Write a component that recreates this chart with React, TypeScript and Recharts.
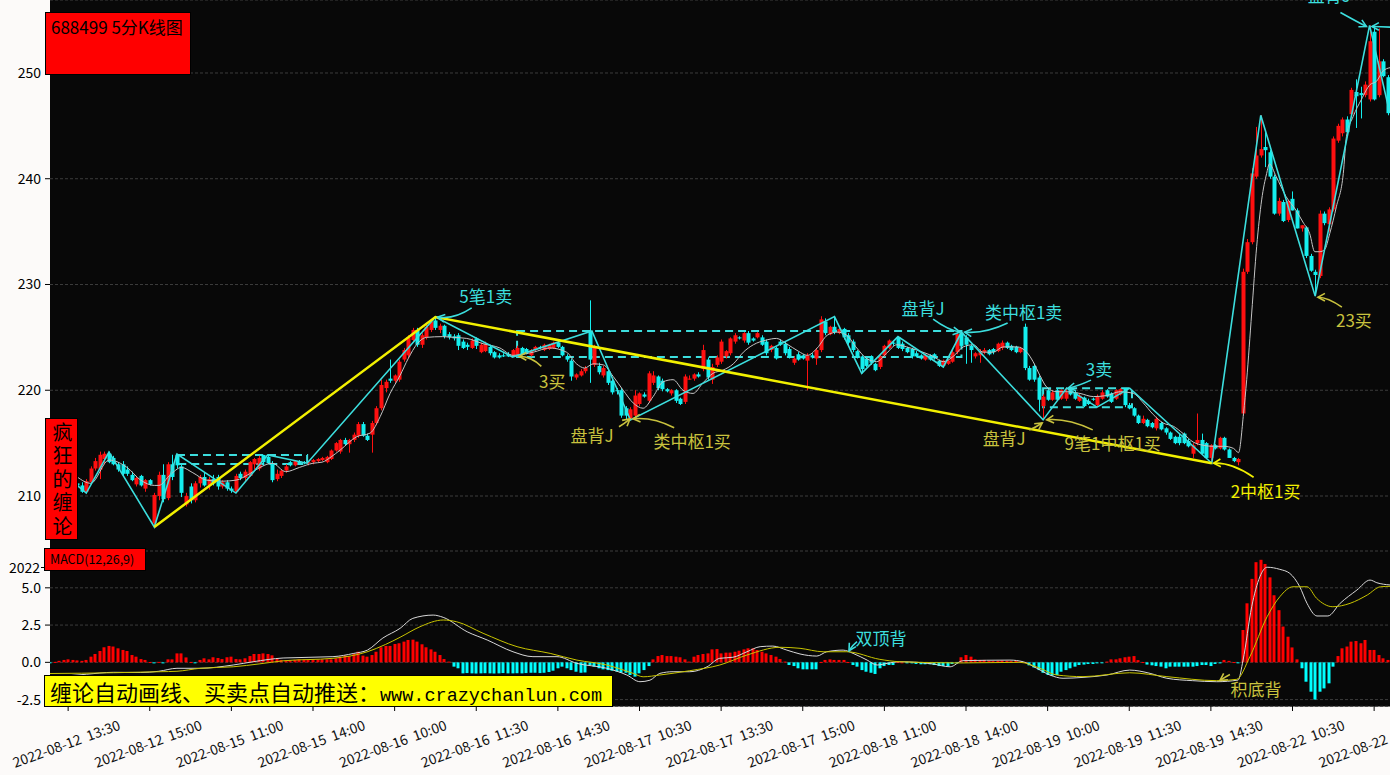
import React from 'react'
import {
  ComposedChart,
  Bar,
  Line,
  XAxis,
  YAxis,
  CartesianGrid,
  ReferenceArea,
  ReferenceDot,
} from 'recharts'

// ---- price bars, one array per trading day: [open, high, low, close] ----
const K_0812 = [
  [212.0, 212.3, 211.7, 211.9], [211.9, 212.2, 211.6, 211.8], [211.8, 212.0, 211.4, 211.6], [211.6, 211.9, 211.3, 211.7],
  [211.7, 212.0, 211.4, 211.5], [211.5, 211.8, 211.0, 211.2], [211.2, 211.5, 210.8, 211.0], [211.0, 211.3, 210.3, 210.4],
  [210.4, 211.6, 210.3, 211.4], [211.3, 212.8, 211.1, 212.6], [212.6, 213.6, 212.4, 213.3], [212.5, 214.2, 211.6, 213.9],
  [213.5, 214.2, 213.0, 214.0], [214.0, 214.2, 213.1, 213.2], [213.6, 213.8, 212.9, 213.0], [213.0, 213.2, 212.3, 212.5],
  [213.0, 213.3, 211.9, 212.1], [212.5, 212.8, 211.9, 212.1], [212.0, 212.3, 211.4, 211.5], [211.1, 211.9, 210.9, 211.7],
  [211.9, 212.0, 210.9, 211.0], [210.7, 211.6, 210.4, 211.5], [211.5, 211.6, 211.0, 211.1],
]
const K_0815 = [
  [207.4, 210.3, 207.07, 210.1], [210.0, 212.3, 209.6, 212.0], [212.0, 213.0, 209.4, 209.7], [209.8, 213.2, 209.6, 213.0],
  [213.0, 213.9, 211.5, 211.8], [213.9, 213.97, 212.6, 212.9], [212.8, 213.0, 209.9, 210.3], [209.2, 210.3, 209.0, 210.0],
  [210.9, 211.2, 209.3, 209.6], [209.6, 211.4, 209.4, 211.2], [211.2, 212.0, 210.8, 211.8], [211.8, 212.2, 210.9, 211.0],
  [211.0, 211.8, 210.6, 211.6], [211.6, 212.0, 211.0, 211.2], [211.8, 212.0, 210.6, 210.9], [210.9, 211.5, 210.7, 211.3],
  [211.3, 211.5, 210.5, 210.7], [210.7, 210.9, 210.3, 210.5], [210.4, 212.1, 210.28, 211.9], [212.1, 212.3, 211.5, 211.7],
  [211.7, 212.5, 211.4, 212.3], [211.9, 213.3, 211.8, 213.2], [213.0, 213.6, 212.5, 213.5], [212.6, 213.8, 212.4, 213.6],
  [213.88, 213.9, 212.9, 213.2], [213.7, 213.88, 213.0, 213.1], [213.1, 213.3, 211.3, 211.5], [211.6, 212.5, 211.4, 212.1],
  [211.9, 212.5, 211.7, 212.4], [212.4, 213.0, 212.2, 212.8], [213.2, 213.3, 212.8, 212.9], [212.9, 213.4, 212.8, 213.3],
  [213.3, 213.4, 213.0, 213.1], [213.2, 213.3, 213.0, 213.1], [213.1, 213.3, 212.9, 213.2], [213.2, 213.5, 213.0, 213.4],
  [213.3, 213.6, 213.2, 213.5], [213.4, 213.7, 213.3, 213.6], [213.2, 213.8, 213.1, 213.7], [213.5, 214.4, 213.4, 214.3],
  [214.3, 215.1, 214.2, 215.0], [214.2, 215.4, 214.0, 215.3], [215.3, 215.5, 214.8, 214.9], [214.9, 215.4, 214.1, 215.3],
  [215.3, 216.0, 215.1, 215.8], [215.7, 217.0, 215.5, 216.8], [216.8, 217.0, 215.6, 215.7], [215.7, 215.9, 215.2, 215.3],
]
const K_0816 = [
  [215.8, 217.1, 214.1, 216.9], [216.9, 218.5, 216.7, 218.3], [218.3, 221.0, 218.1, 220.5], [220.2, 221.0, 219.8, 220.8],
  [221.1, 222.9, 220.7, 220.9], [220.9, 221.5, 220.7, 221.4], [221.0, 222.9, 220.8, 222.7], [222.9, 224.0, 222.7, 223.8],
  [223.3, 225.2, 223.0, 225.0], [224.75, 225.9, 224.5, 225.7], [225.7, 225.9, 224.1, 224.3], [224.3, 225.4, 224.0, 225.2],
  [225.0, 226.2, 224.8, 226.0], [225.7, 226.7, 225.5, 226.5], [226.6, 226.93, 225.7, 225.9], [225.7, 226.3, 225.4, 226.1],
  [226.1, 226.2, 224.9, 225.1], [225.3, 225.5, 224.8, 225.0], [225.1, 225.3, 224.7, 224.9], [225.2, 225.4, 223.8, 224.2],
  [224.6, 224.8, 223.9, 224.0], [224.3, 224.5, 223.8, 224.1], [224.0, 224.9, 223.9, 224.7], [224.9, 225.0, 223.9, 224.2],
  [223.6, 224.5, 223.5, 224.3], [223.7, 224.6, 223.6, 224.4], [224.1, 224.3, 223.3, 223.5], [223.6, 223.7, 223.0, 223.1],
  [223.3, 223.5, 223.0, 223.1], [223.3, 223.5, 223.14, 223.2], [223.4, 223.6, 223.14, 223.2], [223.2, 223.9, 223.14, 223.8],
  [223.3, 224.2, 223.2, 224.0], [224.0, 224.1, 223.3, 223.4], [223.9, 224.0, 223.4, 223.5], [223.3, 223.9, 223.2, 223.8],
  [223.8, 224.2, 223.7, 224.1], [224.1, 224.2, 223.9, 224.0], [223.8, 224.4, 223.7, 224.3], [223.9, 224.4, 223.8, 224.3],
  [224.0, 224.6, 223.9, 224.5], [224.5, 224.7, 224.0, 224.1], [224.1, 224.2, 223.2, 223.3], [223.2, 223.4, 222.7, 222.9],
  [222.8, 223.0, 220.9, 221.3], [221.2, 221.6, 221.0, 221.5], [221.4, 222.0, 221.3, 221.8], [221.8, 222.3, 221.6, 222.1],
]
const K_0817 = [
  [225.6, 228.5, 220.7, 222.9], [222.4, 224.3, 222.2, 224.1], [222.3, 222.6, 221.5, 221.7], [221.4, 222.3, 221.2, 222.1],
  [221.8, 222.0, 220.5, 220.7], [220.9, 221.1, 219.6, 219.8], [220.0, 220.2, 219.6, 219.9], [220.0, 220.2, 217.4, 217.6],
  [218.3, 218.5, 217.19, 217.6], [217.3, 218.4, 217.19, 218.2], [217.6, 220.0, 217.4, 219.5], [218.7, 219.8, 218.5, 219.7],
  [219.6, 219.8, 219.3, 219.4], [219.0, 221.8, 218.8, 221.6], [220.7, 221.8, 220.5, 221.4], [221.3, 221.4, 220.0, 220.2],
  [220.9, 221.1, 219.9, 220.1], [220.1, 220.2, 219.8, 219.9], [219.7, 220.1, 219.5, 220.0], [220.0, 220.1, 218.8, 219.0],
  [219.2, 219.3, 218.6, 218.7], [218.9, 221.5, 218.7, 221.3], [221.1, 221.4, 221.0, 221.1], [221.1, 221.6, 220.9, 221.5],
  [221.5, 221.7, 221.2, 221.3], [222.0, 224.3, 221.8, 223.8], [222.9, 223.1, 221.0, 221.2], [221.0, 222.5, 220.6, 222.2],
  [222.4, 223.3, 222.2, 223.1], [222.7, 224.8, 222.5, 224.6], [223.2, 223.8, 223.0, 223.7], [223.5, 225.0, 223.3, 224.9],
  [224.6, 225.4, 224.4, 225.2], [225.0, 225.1, 224.8, 224.9], [224.7, 225.5, 224.5, 225.4], [225.4, 225.6, 224.3, 224.5],
  [224.9, 225.0, 224.6, 224.7], [225.0, 225.5, 224.9, 225.4], [225.0, 225.2, 224.2, 224.3], [224.6, 224.8, 223.3, 223.5],
  [223.8, 224.3, 223.6, 224.2], [224.0, 224.1, 222.9, 223.0], [224.6, 224.8, 224.2, 224.3], [224.4, 224.6, 223.3, 223.5],
  [223.9, 224.1, 223.0, 223.2], [222.6, 223.2, 222.4, 223.0], [223.4, 223.6, 222.8, 222.9], [223.3, 223.4, 222.9, 223.0],
]
const K_0818 = [
  [222.8, 223.5, 220.0, 223.3], [223.3, 223.5, 223.0, 223.1], [223.0, 224.0, 222.4, 223.8], [223.8, 227.0, 223.6, 226.7],
  [226.5, 226.8, 225.2, 225.4], [225.3, 226.1, 225.2, 226.0], [226.0, 226.96, 225.3, 225.5], [225.4, 226.0, 225.3, 225.8],
  [225.8, 225.9, 224.8, 225.0], [225.2, 225.4, 224.3, 224.5], [224.6, 224.8, 223.6, 223.8], [223.7, 223.8, 223.0, 223.2],
  [223.2, 223.3, 221.6, 222.0], [223.0, 223.2, 222.2, 222.3], [223.2, 223.3, 222.4, 222.6], [222.5, 222.6, 221.8, 221.9],
  [222.2, 223.4, 222.0, 223.2], [223.3, 224.3, 223.2, 224.2], [224.0, 224.8, 223.9, 224.7], [224.5, 224.7, 224.2, 224.4],
  [225.0, 225.07, 223.9, 224.0], [224.4, 224.6, 223.7, 223.9], [224.0, 224.1, 223.5, 223.6], [223.9, 224.0, 223.0, 223.2],
  [223.5, 223.7, 223.1, 223.2], [223.3, 223.4, 222.9, 223.0], [222.9, 223.4, 222.8, 223.3], [223.3, 223.4, 222.8, 222.9],
  [223.4, 223.5, 222.9, 223.0], [222.8, 222.9, 222.2, 222.3], [222.3, 222.9, 222.2, 222.8], [222.5, 222.9, 222.4, 222.8],
  [222.7, 223.8, 222.6, 223.6], [223.6, 225.5, 223.4, 225.3], [225.4, 225.5, 224.0, 224.2], [225.0, 225.2, 222.5, 224.3],
  [224.2, 224.3, 222.6, 223.8], [223.2, 223.6, 223.0, 223.5], [223.3, 223.9, 222.6, 223.6], [223.6, 224.0, 223.4, 223.8],
  [223.8, 223.9, 223.3, 223.4], [223.9, 224.0, 223.4, 223.6], [223.7, 224.5, 223.6, 224.4], [224.0, 224.7, 223.8, 224.5],
  [224.5, 224.6, 223.9, 224.0], [224.2, 224.3, 223.7, 223.8], [224.1, 224.2, 223.5, 223.6], [223.6, 224.1, 223.5, 224.0],
]
const K_0819 = [
  [226.0, 226.3, 221.9, 222.1], [222.1, 222.3, 220.9, 221.0], [222.3, 222.5, 220.8, 221.0], [221.2, 221.4, 218.0, 219.1],
  [218.5, 219.6, 217.2, 219.4], [220.0, 220.2, 219.0, 219.1], [219.1, 220.0, 219.0, 219.8], [220.0, 220.2, 219.0, 219.1],
  [219.2, 220.1, 219.1, 220.0], [219.2, 220.2, 219.0, 219.8], [220.1, 220.2, 219.5, 219.6], [219.8, 220.0, 219.1, 219.2],
  [219.0, 219.7, 218.9, 219.5], [219.3, 219.4, 218.4, 218.5], [219.0, 219.2, 218.6, 218.7], [219.2, 219.3, 219.0, 219.1],
  [218.6, 219.6, 218.4, 219.4], [219.2, 220.0, 219.1, 219.8], [220.0, 220.1, 219.3, 219.4], [219.7, 219.8, 218.8, 218.9],
  [219.2, 220.1, 219.1, 220.0], [219.6, 220.2, 219.5, 220.1], [220.2, 220.2, 218.4, 218.6], [218.6, 218.8, 218.2, 218.3],
  [218.3, 218.4, 217.5, 217.6], [217.6, 217.7, 216.8, 216.9], [216.9, 217.6, 216.8, 217.3], [217.2, 217.3, 216.5, 216.6],
  [216.9, 217.0, 216.4, 216.5], [216.4, 217.5, 216.2, 217.3], [216.9, 217.0, 216.2, 216.3], [216.4, 216.5, 215.8, 216.0],
  [216.0, 216.1, 215.3, 215.4], [215.6, 215.7, 214.9, 215.0], [215.6, 215.9, 214.8, 215.0], [215.9, 216.0, 214.9, 215.0],
  [215.2, 215.4, 214.6, 214.7], [214.0, 215.0, 213.6, 214.8], [215.0, 217.8, 214.8, 215.3], [215.3, 215.9, 213.9, 214.0],
  [215.0, 215.1, 213.5, 213.6], [213.6, 214.9, 213.1, 214.8], [214.8, 214.9, 214.4, 214.5], [214.5, 215.6, 214.4, 215.5],
  [215.5, 215.6, 214.3, 214.4], [214.4, 214.5, 213.6, 213.6], [213.6, 213.7, 213.2, 213.3], [213.2, 213.6, 212.9, 213.5],
]
const K_0822 = [
  [217.8, 231.5, 217.6, 231.2], [231.2, 234.3, 231.0, 234.0], [234.0, 241.0, 233.8, 240.5], [240.2, 244.9, 240.0, 242.2],
  [242.2, 246.0, 242.0, 242.8], [243.0, 244.4, 241.1, 242.7], [242.5, 242.7, 240.0, 240.2], [240.2, 240.4, 236.6, 236.7],
  [236.7, 238.2, 236.5, 237.9], [237.8, 238.0, 235.9, 236.0], [236.1, 238.0, 235.9, 237.9], [238.1, 238.8, 237.0, 237.0],
  [237.0, 237.2, 235.3, 235.3], [235.3, 235.6, 235.0, 235.6], [235.4, 235.5, 232.5, 232.7], [232.7, 232.9, 231.2, 231.3],
  [231.2, 231.4, 228.9, 230.9], [230.8, 237.0, 230.6, 236.7], [236.7, 236.9, 235.6, 235.8], [235.7, 237.3, 235.0, 237.1],
  [237.1, 244.0, 236.9, 243.8], [243.6, 245.2, 243.4, 245.0], [244.3, 245.8, 244.0, 245.6], [245.6, 245.9, 244.3, 244.4],
  [246.1, 248.6, 245.9, 248.4], [248.2, 249.4, 244.8, 247.8], [248.1, 248.7, 245.7, 247.9], [247.9, 249.2, 247.7, 248.9],
  [247.5, 254.5, 247.3, 253.0], [253.9, 254.3, 247.4, 247.5], [247.9, 254.2, 247.7, 251.1], [251.1, 251.3, 249.6, 249.7],
  [249.6, 249.8, 246.0, 246.2],
]

// moving average line, [bar index, value]
const MA_PTS = [
  [6, 211.8], [9, 211.2], [13, 213.4], [17, 212.7], [20, 211.5], [23, 211.0], [24, 211.0], [26.5, 212.0], [29, 212.7],
  [31.5, 212.2], [34.5, 211.5], [38, 211.4], [41, 211.5], [44, 212.1], [46.3, 212.7], [49, 213.1], [52, 212.3], [55, 212.7],
  [58, 213.1], [60, 213.2], [62, 213.7], [64, 214.35], [67.6, 215.6], [70.6, 215.95], [72.8, 217.5], [75, 219.7], [77.2, 221.4],
  [79, 223.0], [81, 224.4], [83, 225.0], [86.6, 225.07], [89, 225.0], [91.9, 224.9], [95.5, 224.4], [99.2, 224.0], [102.1, 223.3],
  [106.6, 223.6], [110.2, 224.0], [113.9, 223.6], [116.1, 222.5], [117.9, 222.1], [119.8, 222.5], [122, 222.4], [124.2, 221.3],
  [126.4, 220.0], [128.6, 218.8], [130.8, 218.3], [133, 219.4], [135.2, 220.8], [137.4, 221.0], [139.6, 220.0], [141.8, 219.7],
  [144, 220.7], [146.2, 221.6], [148.4, 221.9], [150.7, 222.5], [152.9, 223.6], [155.1, 224.3], [158, 224.75], [160.2, 224.9],
  [162.4, 224.4], [165, 223.7], [167, 223.3], [169.2, 224.0], [171.4, 225.2], [173.6, 225.5], [175.7, 225.2], [177.9, 224.0],
  [180.1, 223.0], [182.3, 222.7], [184.5, 223.5], [186.7, 224.3], [188.9, 224.1], [191.1, 223.8], [194.8, 223.2], [197, 222.7],
  [199.2, 223.2], [201.4, 224.1], [203.6, 224.3], [205.8, 223.6], [208, 223.6], [210.2, 224.1], [213.2, 224.1], [215.4, 223.6],
  [216.8, 222.7], [218.3, 221.4], [219.8, 220.3], [222, 219.86], [224.2, 219.86], [227.1, 219.7], [230.1, 219.4], [233, 219.5],
  [236, 219.86], [238.9, 219.7], [241.1, 218.8], [243.3, 217.7], [245.5, 216.9], [247.7, 216.6], [249.9, 215.9], [252.1, 215.1],
  [254.3, 214.8], [256.5, 214.7], [258.8, 214.7], [261, 214.5], [262.1, 214.1], [263.2, 217.8], [263.9, 221.0], [265, 227.3],
  [266.1, 233.6], [267.2, 238.0], [268.3, 240.5], [268.9, 241.4], [270.4, 240.2], [272.6, 238.3], [274.8, 237.0], [276.3, 235.9],
  [277.8, 234.8], [278.9, 233.1], [280, 233.1], [281.1, 233.3], [282.2, 234.8], [283.7, 237.4], [285.2, 240.5], [285.9, 244.0],
  [287.4, 245.9], [289.2, 247.5], [291.1, 248.9], [292.5, 249.2], [294, 250.2], [295.5, 250.5],
]

// strokes (bi) and segments (xd), [bar index, price]
const BI_PTS = [
  [6, 211.0], [8, 210.28], [13, 214.16], [23, 207.07], [28, 213.97], [41, 210.28], [48, 213.88], [56.7, 213.1], [85, 226.93],
  [102, 223.14], [119.5, 225.6], [128, 217.19], [173, 226.96], [179, 221.6], [187, 225.07], [197, 222.2], [201, 225.5],
  [219, 217.2], [224.2, 220.2], [230.9, 218.4], [238.1, 220.2], [256.2, 213.1], [267, 246.0], [279, 228.9], [291, 254.5],
  [295.4, 246.3],
]
const XD_PTS = [[23, 207.07], [85, 226.93], [256.2, 213.1]]

// pivots (zhongshu): [from bar, to bar, low, high]
const ZS_BOXES = [
  [28, 56.7, 213.03, 213.88],
  [103, 201, 223.14, 225.6],
  [219, 238.6, 218.4, 220.2],
]

// MACD histogram per bar, by day
const H_0812 = [-0.05, 0.03, 0.1, 0.16, 0.2, 0.16, 0.13, 0.1, 0.16, 0.38, 0.56, 0.76, 1.01, 1.1, 1.06, 0.94, 0.83, 0.76, 0.49, 0.38, 0.22, 0.16, 0.02]
const H_0815 = [
  -0.07, 0.03, -0.07, 0.2, 0.2, 0.6, 0.6, 0.33, 0.02, -0.05, 0.16, 0.27, 0.2, 0.34, 0.29, 0.22, 0.34, 0.38, 0.22, 0.2, 0.27, 0.42,
  0.56, 0.56, 0.6, 0.56, 0.47, 0.25, 0.16, 0.12, 0.12, 0.16, 0.2, 0.18, 0.16, 0.2, 0.18, 0.2, 0.2, 0.2, 0.27, 0.38, 0.45, 0.42,
  0.56, 0.71, 0.45, 0.38,
]
const H_0816 = [
  0.49, 0.71, 1.01, 1.1, 1.1, 1.23, 1.28, 1.39, 1.5, 1.52, 1.39, 1.21, 1.01, 0.87, 0.71, 0.49, 0.22, 0.05, -0.29, -0.4, -0.74,
  -0.72, -0.74, -0.75, -0.74, -0.73, -0.74, -0.75, -0.74, -0.72, -0.74, -0.74, -0.73, -0.74, -0.72, -0.7, -0.7, -0.72, -0.7,
  -0.65, -0.56, -0.4, -0.29, -0.4, -0.52, -0.63, -0.7, -0.68,
]
const H_0817 = [
  -0.18, -0.29, -0.4, -0.47, -0.52, -0.56, -0.63, -0.7, -0.7, -0.85, -0.96, -0.74, -0.52, -0.25, 0.2, 0.42, 0.49, 0.42, 0.42,
  0.38, 0.34, 0.2, 0.05, 0.38, 0.49, 0.56, 0.6, 0.87, 0.89, 0.6, 0.65, 0.65, 0.71, 0.78, 0.87, 0.94, 0.94, 0.83, 0.71, 0.6,
  0.49, 0.38, 0.22, 0.05, -0.18, -0.25, -0.4, -0.47,
]
const H_0818 = [
  -0.47, -0.47, -0.47, 0.02, 0.16, 0.2, 0.16, 0.16, 0.16, 0.02, -0.18, -0.29, -0.52, -0.63, -0.7, -0.78, -0.4, -0.25, -0.18,
  -0.18, 0.02, 0.0, -0.05, -0.07, -0.11, -0.13, -0.13, -0.13, -0.18, -0.25, -0.25, -0.25, -0.11, -0.05, 0.34, 0.49, 0.38, 0.2,
  0.16, 0.16, 0.1, 0.08, 0.1, 0.12, 0.1, 0.08, 0.1, 0.05,
]
const H_0819 = [
  0.02, -0.2, -0.35, -0.52, -0.7, -0.85, -0.9, -0.85, -0.63, -0.52, -0.4, -0.29, -0.18, -0.15, -0.11, -0.11, -0.07, -0.04,
  0.05, 0.2, 0.2, 0.27, 0.34, 0.38, 0.42, 0.15, 0.02, -0.15, -0.2, -0.25, -0.29, -0.4, -0.29, -0.29, -0.29, -0.29, -0.29,
  -0.29, -0.25, -0.18, -0.18, -0.25, -0.11, -0.07, 0.16, 0.1, 0.02, -0.05,
]
const H_0822 = [
  2.17, 3.96, 5.6, 6.72, 6.88, 6.6, 5.7, 4.5, 3.5, 2.4, 1.72, 1.0, 0.2, -0.4, -1.3, -1.97, -2.5, -1.97, -1.75, -1.41, -0.29,
  0.42, 0.94, 1.06, 1.39, 1.43, 1.28, 1.5, 0.83, 0.83, 0.49, 0.27, 0.16,
]

const DIF_PTS = [
  [0, -1.0], [8, -0.8], [14, -0.67], [20, -0.68], [24, -0.6], [28, -0.4], [33, -0.4], [40.4, -0.18], [44.8, 0.04], [51.4, 0.29],
  [62.4, 0.38], [67, 0.6], [70, 0.82], [73.4, 1.63], [77.2, 2.28], [80, 2.95], [84.5, 3.17], [86.7, 3.02], [92, 2.05], [96.4, 1.5],
  [102.1, 0.71], [106.5, 0.38], [111.8, 0.38], [116.2, -0.07], [122.8, -0.4], [127.2, -0.85], [130.1, -1.3], [132.3, -1.2],
  [134.5, -0.74], [137.4, -0.63], [141.1, -0.63], [144.9, -0.3], [147.7, 0.27], [150.6, 0.34], [153.7, 0.71], [156.6, 1.05],
  [159.4, 1.09], [162.5, 0.82], [165.4, 0.56], [169.1, 0.42], [171.3, 0.71], [174.9, 0.82], [177.1, 0.6], [180.2, 0.15],
  [182.4, -0.18], [184.6, -0.07], [187.4, 0.04], [194.7, -0.11], [198.5, -0.3], [201.3, 0.11], [211.7, 0.15], [214.6, 0.04],
  [217.6, -0.4], [220.5, -0.85], [223.4, -1.07], [227.8, -1.01], [233.1, -0.85], [238.1, -0.52], [242.6, -0.74], [246.3, -1.07],
  [252, -1.23], [257.3, -1.3], [262, -1.19], [263.1, 0.15], [265, 3.73], [266.8, 5.74], [268.4, 6.38], [271.2, 6.24],
  [273.4, 5.97], [275.6, 5.07], [277.2, 3.96], [279.4, 3.11], [281.8, 3.11], [284.5, 3.96], [288.2, 4.85], [291.1, 5.52],
  [292.6, 5.34], [295.5, 5.19],
]
const DEA_PTS = [
  [0, -0.75], [14, -0.7], [24.3, -0.63], [28, -0.6], [33.1, -0.4], [40.4, -0.3], [46.3, -0.1], [51.4, 0.1], [62.4, 0.27],
  [69.9, 0.7], [74, 1.2], [77.2, 1.68], [81.6, 2.39], [86.7, 2.84], [89.7, 2.72], [95.5, 1.95], [103, 1.05], [110.3, 0.6],
  [116.2, 0.15], [122.8, -0.18], [128.6, -0.74], [130.8, -0.97], [134.5, -0.85], [141.1, -0.56], [147.7, -0.18], [153.7, 0.49],
  [161, 1.01], [165.4, 0.94], [170.5, 0.71], [175.7, 0.71], [183, 0.2], [187.4, 0.04], [200.7, -0.04], [213.9, 0.0],
  [218.3, -0.4], [222, -0.85], [227.8, -0.96], [238.1, -0.7], [246.3, -0.96], [257.3, -1.23], [261.7, -1.14], [264.6, 0.38],
  [268.4, 3.06], [271.2, 4.4], [274.1, 5.07], [277.2, 5.07], [279.3, 4.3], [282.9, 3.73], [286.7, 3.96], [290.5, 4.52],
  [293.4, 5.07], [295.5, 5.1],
]

const X_TICKS = [4, 22, 40, 58, 76, 94, 112, 130, 148, 166, 184, 202, 220, 238, 256, 274, 292]
const X_LABELS = [
  '2022-08-12 13:30', '2022-08-12 15:00', '2022-08-15 11:00', '2022-08-15 14:00', '2022-08-16 10:00', '2022-08-16 11:30',
  '2022-08-16 14:30', '2022-08-17 10:30', '2022-08-17 13:30', '2022-08-17 15:00', '2022-08-18 11:00', '2022-08-18 14:00',
  '2022-08-19 10:00', '2022-08-19 11:30', '2022-08-19 14:30', '2022-08-22 10:30', '2022-08-22 13:30',
]
const PRICE_TICKS = [210, 220, 230, 240, 250]
const MACD_TICKS = [-2.5, 0, 2.5, 5]

// buy/sell signal labels: text, bar index, value
const SIG_TEXT = ['5笔1卖', '3买', '盘背J', '类中枢1买', '盘背J', '类中枢1卖', '3卖', '盘背J', '9笔1中枢1买', '2中枢1买', '23买', '盘背J', '']
const SIG_AT = [
  [85.5, 226.93], [103.5, 223.2], [127.9, 217.3], [128.6, 217.3], [200.7, 225.5], [201.7, 225.5], [224.5, 220.2],
  [218.8, 216.9], [219.8, 217.2], [256.6, 213.1], [279.6, 228.8], [290.3, 254.4], [291.5, 254.4],
]
const MACD_SIG_TEXT = ['双顶背', '积底背']
const MACD_SIG_AT = [[176.2, 0.78], [258, -1.22]]

// ---- styles ----
const RED = '#ff1010'
const CYAN = '#14eeee'
const BI = '#3cdede'
const YEL = '#f2f000'
const OLIVE = '#c9c23e'
const FONT = '"Noto Sans CJK SC", "Noto Sans", sans-serif'
const DOMAIN_X: [number, number] = [0, 295.5]

// arrow / label offsets in px relative to the tip: [color, startDx, startDy, ctrlDx, ctrlDy, textDx, textDy]
const SIG_LOOK: [string, number, number, number, number, number, number][] = [
  [BI, 34, -9, 16, 3, 48, -21],
  [OLIVE, 22, 10, 12, 0, 33, 24],
  [OLIVE, -11, 8, -6, 5, -38, 16],
  [OLIVE, 41, 9, 20, -2, 59, 22],
  [BI, -27, -13, -12, -2, -37, -25],
  [BI, 43, -9, 20, 2, 59, -21],
  [BI, 23, -8, 10, -2, 31, -20],
  [OLIVE, -13, 7, -6, 4, -38, 14],
  [OLIVE, 46, 10, 20, -2, 66, 23],
  [YEL, 40, 14, 18, -1, 52, 27],
  [OLIVE, 24, 10, 10, 0, 36, 22],
  [BI, -26, -14, -8, -4, -37, -32],
  [BI, 22, 1, 11, 0, 0, 0],
]
const MACD_SIG_LOOK: [string, number, number, number, number, number, number][] = [
  [BI, 8, -9, 3, -5, 32, -13],
  [OLIVE, 10, -6, 6, -4, 36, 8],
]

const ALL_K = [...K_0812, ...K_0815, ...K_0816, ...K_0817, ...K_0818, ...K_0819, ...K_0822]
const ALL_H = [...H_0812, ...H_0815, ...H_0816, ...H_0817, ...H_0818, ...H_0819, ...H_0822]

const candleRows = ALL_K.map(([o, h, l, c], i) => ({ i, o, h, l, c, range: [l, h] }))
const histRows = ALL_H.map((v, i) => ({ i, v }))
const toPts = (arr: number[][]) => arr.map(([i, v]) => ({ i, v }))

function Candle(props: any) {
  const { x, y, width, height, payload } = props
  if (x == null || y == null || !payload) return null
  const lo = payload.l
  const hi = payload.h
  const top = Math.min(y, y + (height || 0))
  const span = Math.abs(height || 0)
  const k = hi > lo ? span / (hi - lo) : 0
  const py = (v: number) => top + (hi - v) * k
  const cx = Math.round(x + width / 2) + 0.5
  const up = payload.c >= payload.o
  const color = up ? RED : CYAN
  const yo = py(payload.o)
  const yc = py(payload.c)
  const bt = Math.min(yo, yc)
  const bh = Math.max(1, Math.abs(yc - yo))
  return (
    <g>
      <line x1={cx} x2={cx} y1={top} y2={top + span} stroke={color} strokeWidth={1} />
      <rect x={cx - 2} y={bt} width={4} height={bh} fill={color} />
    </g>
  )
}

// MACD histogram column, drawn 3px wide around the bar centre
function HistBar(props: any) {
  const { x, y, width, height, payload } = props
  if (x == null || y == null || !payload) return null
  const top = Math.min(y, y + (height || 0))
  const h = Math.max(1, Math.abs(height || 0))
  const cx = Math.round(x + width / 2)
  return <rect x={cx - 1.5} y={top} width={3} height={h} fill={payload.v >= 0 ? '#ff0000' : '#00ffff'} />
}

function Signal({ cx, cy, look, text }: { cx?: number; cy?: number; look: any[]; text: string }) {
  if (cx == null || cy == null) return null
  const [color, sdx, sdy, qdx, qdy, tdx, tdy] = look
  const sx = cx + sdx
  const sy = cy + sdy
  const qx = cx + qdx
  const qy = cy + qdy
  const ang = Math.atan2(cy - qy, cx - qx)
  const len = 8
  const a = 0.5
  const p1x = cx - len * Math.cos(ang - a)
  const p1y = cy - len * Math.sin(ang - a)
  const p2x = cx - len * Math.cos(ang + a)
  const p2y = cy - len * Math.sin(ang + a)
  return (
    <g>
      <path d={`M${sx},${sy} Q${qx},${qy} ${cx},${cy}`} fill="none" stroke={color} strokeWidth={1.6} />
      <path d={`M${p1x},${p1y} L${cx},${cy} L${p2x},${p2y}`} fill="none" stroke={color} strokeWidth={1.6} />
      {text ? (
        <text x={cx + tdx} y={cy + tdy} textAnchor="middle" dominantBaseline="central" fontSize={17} fill={color} fontFamily={FONT}>
          {text}
        </text>
      ) : null}
    </g>
  )
}

function DateTick(props: any) {
  const { x, y, payload } = props
  const label = X_LABELS[X_TICKS.indexOf(payload.value)] ?? ''
  return (
    <g transform={`translate(${x - 2},${y + 30}) rotate(-20)`}>
      <text textAnchor="middle" dominantBaseline="central" fontSize={14} fill="#111" fontFamily={FONT} style={{ whiteSpace: 'pre' }}>
        {label.replace(' ', '\u00a0\u00a0')}
      </text>
    </g>
  )
}

const boxStyle: React.CSSProperties = {
  position: 'absolute',
  boxSizing: 'border-box',
  border: '1px solid #000',
  color: '#000',
  fontFamily: FONT,
}

export default function App() {
  return (
    <div style={{ position: 'absolute', left: 0, top: 0, width: 1390, height: 775, background: '#fcfaf9', overflow: 'hidden' }}>
      <div style={{ position: 'absolute', left: 0, top: 0 }}>
        <ComposedChart width={1390} height={551} data={candleRows} margin={{ top: 0, right: 0, bottom: 0, left: 0 }}>
          <CartesianGrid vertical={false} stroke="#3c3c3c" strokeDasharray="3 2" fill="#080808" fillOpacity={1} />
          <XAxis dataKey="i" type="number" domain={DOMAIN_X} allowDataOverflow hide />
          <YAxis
            type="number"
            domain={[204.8, 256.9]}
            allowDataOverflow
            ticks={PRICE_TICKS}
            width={50}
            axisLine={false}
            tickSize={5}
            tickLine={{ stroke: '#000' }}
            tick={{ fontSize: 14, fill: '#000', fontFamily: FONT }}
            tickMargin={4}
          />
          <Bar dataKey="range" barSize={4} isAnimationActive={false} shape={(p: any) => <Candle {...p} />} />
          <Line data={toPts(MA_PTS)} dataKey="v" type="monotone" stroke="#c4c4c4" strokeWidth={1} dot={false} isAnimationActive={false} />
          {ZS_BOXES.map(([x1, x2, y1, y2], k) => (
            <ReferenceArea
              key={k}
              x1={x1}
              x2={x2}
              y1={y1}
              y2={y2}
              fill="none"
              fillOpacity={0}
              stroke={BI}
              strokeWidth={2}
              strokeDasharray="8 5"
              ifOverflow="visible"
            />
          ))}
          <Line data={toPts(BI_PTS)} dataKey="v" type="linear" stroke={BI} strokeWidth={1.6} dot={false} isAnimationActive={false} />
          <Line data={toPts(XD_PTS)} dataKey="v" type="linear" stroke={YEL} strokeWidth={2.5} dot={false} isAnimationActive={false} />
          {SIG_AT.map(([i, v], k) => (
            <ReferenceDot
              key={k}
              x={i}
              y={v}
              r={0}
              ifOverflow="visible"
              shape={(p: any) => <Signal cx={p.cx} cy={p.cy} look={SIG_LOOK[k]} text={SIG_TEXT[k]} />}
            />
          ))}
        </ComposedChart>
      </div>

      <div style={{ position: 'absolute', left: 0, top: 551 }}>
        <ComposedChart width={1390} height={224} data={histRows} margin={{ top: 0, right: 0, bottom: 0, left: 0 }}>
          <CartesianGrid vertical={false} stroke="#3c3c3c" strokeDasharray="3 2" fill="#080808" fillOpacity={1} />
          <XAxis
            dataKey="i"
            type="number"
            domain={DOMAIN_X}
            allowDataOverflow
            ticks={X_TICKS}
            interval={0}
            height={69}
            tickSize={5}
            axisLine={{ stroke: '#000' }}
            tickLine={{ stroke: '#000' }}
            tick={<DateTick />}
          />
          <YAxis
            type="number"
            domain={[-2.93, 7.47]}
            allowDataOverflow
            ticks={MACD_TICKS}
            width={50}
            axisLine={false}
            tickSize={5}
            tickLine={{ stroke: '#000' }}
            tick={{ fontSize: 14, fill: '#000', fontFamily: FONT }}
            tickMargin={4}
            tickFormatter={(v: number) => v.toFixed(1)}
          />
          <Bar dataKey="v" barSize={3} isAnimationActive={false} shape={(p: any) => <HistBar {...p} />} />
          <Line data={toPts(DIF_PTS)} dataKey="v" type="monotone" stroke="#d8d8d8" strokeWidth={1} dot={false} isAnimationActive={false} />
          <Line data={toPts(DEA_PTS)} dataKey="v" type="monotone" stroke="#c8c400" strokeWidth={1} dot={false} isAnimationActive={false} />
          {MACD_SIG_AT.map(([i, v], k) => (
            <ReferenceDot
              key={k}
              x={i}
              y={v}
              r={0}
              ifOverflow="visible"
              shape={(p: any) => <Signal cx={p.cx} cy={p.cy} look={MACD_SIG_LOOK[k]} text={MACD_SIG_TEXT[k]} />}
            />
          ))}
        </ComposedChart>
      </div>

      {/* overlay labels */}
      <div style={{ ...boxStyle, left: 45, top: 12, width: 146, height: 63, background: '#ff0000', fontSize: 17, lineHeight: '20px', padding: '4px 0 0 5px', whiteSpace: 'pre' }}>
        688499 5分K线图
      </div>
      <div style={{ ...boxStyle, left: 45, top: 418, width: 33, height: 122, background: '#ff0000', overflow: 'visible' }}>
        <div
          style={{
            position: 'absolute',
            left: 5,
            top: 3,
            height: 130,
            writingMode: 'vertical-rl',
            whiteSpace: 'nowrap',
            fontSize: 20,
            letterSpacing: '3.6px',
            lineHeight: '22px',
          }}
        >
          疯狂的缠论
        </div>
      </div>
      <div style={{ position: 'absolute', left: 8, top: 558, width: 32, textAlign: 'right', fontSize: 14, fontFamily: FONT, color: '#000', lineHeight: '18px' }}>
        2022
      </div>
      <div style={{ position: 'absolute', left: 41, top: 567, width: 4, height: 1, background: '#000' }} />
      <div style={{ ...boxStyle, left: 44, top: 548, width: 102, height: 23, background: '#ff0000', fontSize: 12.5, lineHeight: '20px', paddingLeft: 5 }}>
        MACD(12,26,9)
      </div>
      <div
        style={{
          ...boxStyle,
          left: 44,
          top: 675,
          width: 569,
          height: 32,
          background: '#ffff00',
          fontSize: 22,
          lineHeight: '30px',
          paddingLeft: 5,
          whiteSpace: 'nowrap',
        }}
      >
        缠论自动画线、买卖点自动推送：
        <span style={{ fontFamily: '"Liberation Mono", "DejaVu Sans Mono", monospace', fontSize: 18.5 }}>www.crazychanlun.com</span>
      </div>
    </div>
  )
}
